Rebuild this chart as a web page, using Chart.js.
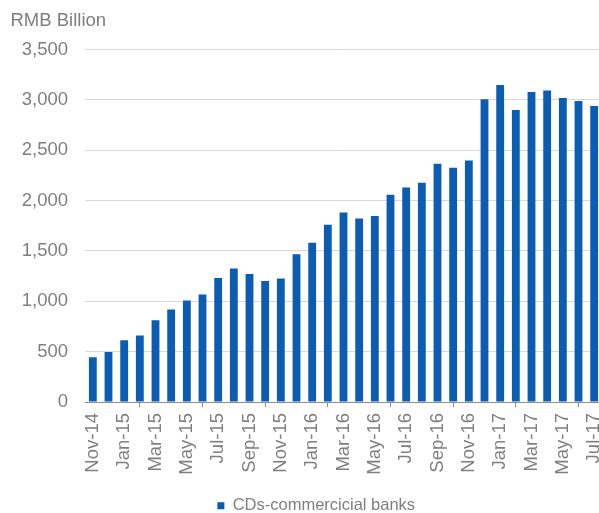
<!DOCTYPE html>
<html>
<head>
<meta charset="utf-8">
<script src="https://cdn.jsdelivr.net/npm/chart.js@4/dist/chart.umd.min.js"></script>
<style>
  html, body { margin: 0; padding: 0; overflow: hidden; background: #fff; }
  canvas { display: block; }
</style>
</head>
<body>
<canvas id="chart" width="602" height="524"></canvas>
<script>
// Monthly outstanding certificates of deposit issued by commercial banks
const months = [
  'Nov-14', 'Dec-14',
  'Jan-15', 'Feb-15', 'Mar-15', 'Apr-15', 'May-15', 'Jun-15',
  'Jul-15', 'Aug-15', 'Sep-15', 'Oct-15', 'Nov-15', 'Dec-15',
  'Jan-16', 'Feb-16', 'Mar-16', 'Apr-16', 'May-16', 'Jun-16',
  'Jul-16', 'Aug-16', 'Sep-16', 'Oct-16', 'Nov-16', 'Dec-16',
  'Jan-17', 'Feb-17', 'Mar-17', 'Apr-17', 'May-17', 'Jun-17', 'Jul-17'
];

const cdsCommercialBanks = [
  444, 497,
  613, 660, 812, 918, 1008, 1067,
  1232, 1326, 1272, 1202, 1226, 1468,
  1580, 1759, 1882, 1822, 1848, 2057,
  2130, 2176, 2365, 2325, 2399, 3005,
  3147, 2899, 3078, 3094, 3018, 2988, 2938
];

const yAxisMin = 0;
const yAxisMax = 3500;
const yAxisStep = 500;

const seriesName = 'CDs-commercicial banks';
const unitLabel = 'RMB Billion';

const BAR_BLUE = '#0B5DB3';
const TEXT_GREY = '#7f7f7f';
const GRID_GREY = '#d9d9d9';
const AXIS_GREY = '#8c8c8c';
const FONT = '"Liberation Sans", Arial, sans-serif';

// nudges the centred legend row to sit under the plot body
const legendNudge = {
  id: 'legendNudge',
  afterLayout(chart) {
    const lg = chart.legend;
    if (lg) { lg.left += 10; lg.right += 10; }
  }
};

new Chart(document.getElementById('chart'), {
  type: 'bar',
  data: {
    labels: months,
    datasets: [{
      label: seriesName,
      data: cdsCommercialBanks,
      backgroundColor: BAR_BLUE,
      borderWidth: 0,
      categoryPercentage: 1.0,
      barPercentage: 0.5
    }]
  },
  plugins: [legendNudge],
  options: {
    responsive: false,
    animation: false,
    devicePixelRatio: 1,
    layout: { padding: { left: 10.5, right: 0, top: 0, bottom: 0 } },
    plugins: {
      title: {
        display: true,
        text: unitLabel,
        align: 'start',
        color: TEXT_GREY,
        font: { family: FONT, size: 18.5, weight: 'normal' },
        padding: { top: 9.6, bottom: 17.7 }
      },
      legend: {
        display: true,
        position: 'bottom',
        labels: {
          color: TEXT_GREY,
          font: { family: FONT, size: 16.5 },
          boxWidth: 7,
          boxHeight: 7,
          padding: 22.5
        }
      },
      tooltip: { enabled: false }
    },
    scales: {
      x: {
        grid: {
          display: true,
          drawOnChartArea: false,
          drawTicks: true,
          tickLength: 5,
          color: AXIS_GREY,
          offset: true
        },
        border: { display: true, color: AXIS_GREY, width: 1 },
        ticks: {
          color: TEXT_GREY,
          font: { family: FONT, size: 18.5 },
          minRotation: 90,
          maxRotation: 90,
          autoSkip: true,
          maxTicksLimit: 17,
          padding: 6
        },
        afterFit(axis) {
          axis.paddingRight = 0;
          axis.height = 73;
        }
      },
      y: {
        min: yAxisMin,
        max: yAxisMax,
        grid: {
          drawTicks: false,
          color: (ctx) => (ctx.tick && ctx.tick.value === 0) ? 'rgba(0,0,0,0)' : GRID_GREY,
          lineWidth: 1
        },
        border: { display: false },
        ticks: {
          stepSize: yAxisStep,
          color: TEXT_GREY,
          font: { family: FONT, size: 18.5 },
          padding: 17,
          callback: (v) => Number(v).toLocaleString('en-US')
        },
        afterFit(axis) {
          axis.width = 74.5;
        }
      }
    }
  }
});
</script>
</body>
</html>
